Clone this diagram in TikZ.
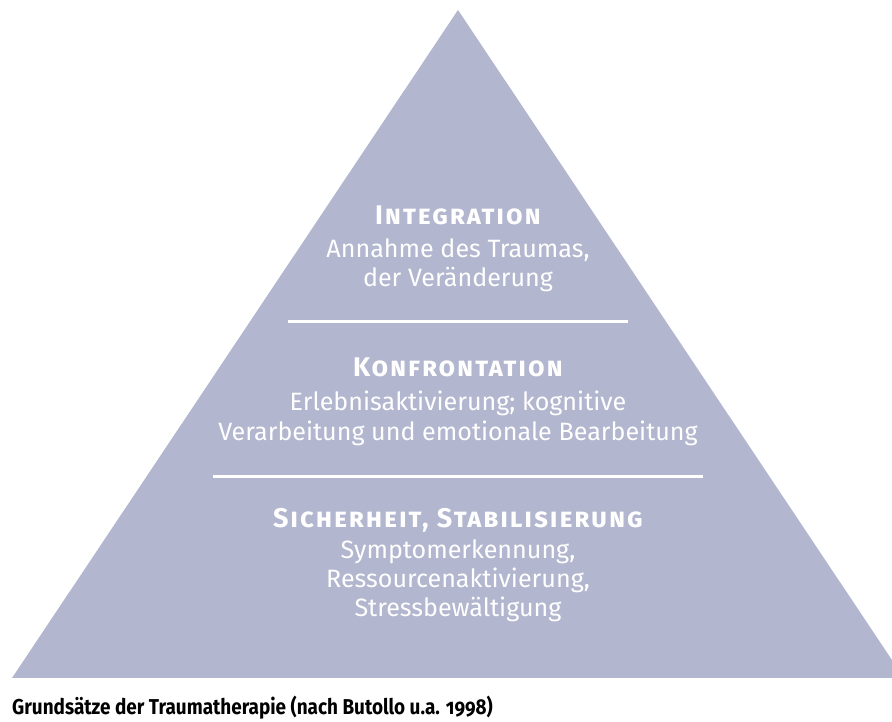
\documentclass[tikz,border=0pt]{standalone}
\usepackage{fontspec}
\setmainfont{Fira Sans}
\definecolor{pyr}{RGB}{178,182,206}
\begin{document}
\begin{tikzpicture}[x=1pt,y=1pt,
  head/.style={text=white,font=\fontsize{27}{30}\selectfont\bfseries\scshape\addfontfeatures{LetterSpace=7},anchor=base,inner sep=0pt},
  body/.style={text=white,font=\fontsize{25.1}{30}\selectfont,anchor=base,inner sep=0pt},
  sep/.style={draw=white,line width=3pt}]
\useasboundingbox (0,0) rectangle (892,722);
\begin{scope}
\clip (0,0) rectangle (892,722);
\fill[pyr] (458,712) coordinate (apex) -- (12,44) coordinate (bl) -- (904,44) coordinate (br) -- cycle;
\end{scope}
\node[head] (h1) at (458,497) {Integration};
\node[body] (t1a) at (458,464) {Annahme des Traumas,};
\node[body] (t1b) at (458,435) {der Veränderung};
\coordinate (l1a) at (288,400); \coordinate (l1b) at (628,400);
\draw[sep] (l1a) -- (l1b);
\node[head] (h2) at (458,345) {Konfrontation};
\node[body] (t2a) at (458,311) {Erlebnisaktivierung; kognitive};
\node[body] (t2b) at (458,281) {Verarbeitung und emotionale Bearbeitung};
\coordinate (l2a) at (213,245); \coordinate (l2b) at (703,245);
\draw[sep] (l2a) -- (l2b);
\node[head] (h3) at (458,194) {Sicherheit, Stabilisierung};
\node[body] (t3a) at (458,163) {Symptomerkennung,};
\node[body] (t3b) at (458,134) {Ressourcenaktivierung,};
\node[body] (t3c) at (458,105) {Stressbewältigung};
\node[anchor=base west,inner sep=0pt,font=\fontsize{21.5}{24}\selectfont\bfseries\addfontfeatures{Numbers=OldStyle,FakeStretch=0.88}] (cap) at (12,7) {Grundsätze der Traumatherapie (nach Butollo u.a. 1998)};
\end{tikzpicture}
\end{document}
